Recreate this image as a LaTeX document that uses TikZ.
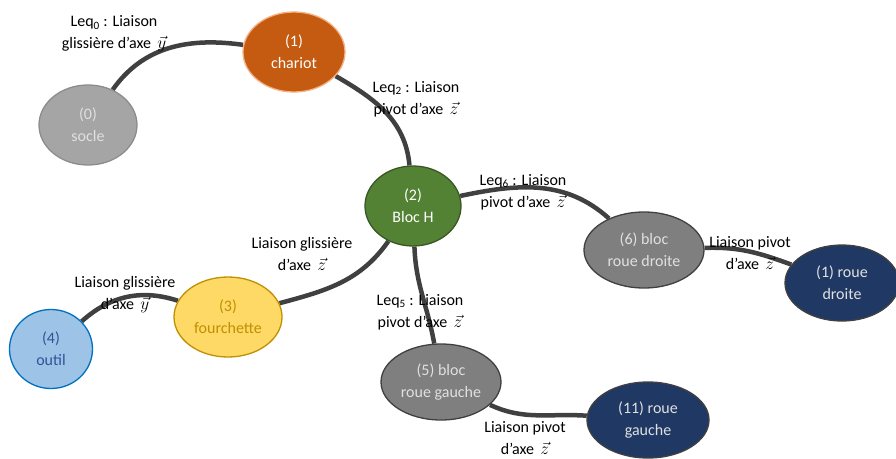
\documentclass[tikz,border=0pt]{standalone}
\usepackage{fontspec}
\setmainfont{Carlito}
\usepackage{amsmath}
\usetikzlibrary{positioning, shapes.geometric, backgrounds}
\definecolor{linkgray}{HTML}{404040}
\definecolor{socleF}{HTML}{A5A5A5}
\definecolor{socleB}{HTML}{8C8C8C}
\definecolor{chariotF}{HTML}{C55A11}
\definecolor{chariotB}{HTML}{F4B183}
\definecolor{blocF}{HTML}{548235}
\definecolor{blocB}{HTML}{385723}
\definecolor{fourchF}{HTML}{FFD966}
\definecolor{fourchB}{HTML}{BF9000}
\definecolor{outilF}{HTML}{9DC3E6}
\definecolor{outilB}{HTML}{0070C0}
\definecolor{outilT}{HTML}{2F5597}
\definecolor{roueF}{HTML}{7F7F7F}
\definecolor{navyF}{HTML}{203864}
\definecolor{paleT}{HTML}{E0E0E0}

\begin{document}
\begin{tikzpicture}
        [x=1pt, y=1pt,
         piece/.style={ellipse, draw, line width=1.3pt, inner sep=0pt, align=center,
                       font=\fontsize{16}{22}\selectfont},
         lab/.style={align=center, inner sep=0pt, font=\fontsize{16}{22}\selectfont},
         link/.style={draw=linkgray, line width=4.5pt}]
        \useasboundingbox (0,0) rectangle (896,-458);

        \node[piece, fill=socleF, draw=socleB, text=paleT, minimum width=98, minimum height=80] (socle) at (88,-125) {(0)\\socle};
        \node[piece, fill=chariotF, draw=chariotB, text=white, minimum width=102, minimum height=80] (chariot) at (294,-52) {(1)\\chariot};
        \node[piece, fill=blocF, draw=blocB, text=white, minimum width=96, minimum height=80] (blocH) at (413,-206) {(2)\\Bloc H};
        \node[piece, fill=fourchF, draw=fourchB, text=fourchB, minimum width=108, minimum height=80] (fourchette) at (228,-317) {(3)\\fourchette};
        \node[piece, fill=outilF, draw=outilB, text=outilT, minimum width=83, minimum height=79] (outil) at (51,-349) {(4)\\outil};
        \node[piece, fill=roueF, draw=linkgray, text=paleT, minimum width=120, minimum height=76] (blocRG) at (441,-382) {(5) bloc\\roue gauche};
        \node[piece, fill=roueF, draw=linkgray, text=paleT, minimum width=120, minimum height=76] (blocRD) at (644,-250) {(6) bloc\\roue droite};
        \node[piece, fill=navyF, draw=linkgray, text=paleT, minimum width=114, minimum height=76] (roueD) at (842,-283) {(1) roue\\droite};
        \node[piece, fill=navyF, draw=linkgray, text=paleT, minimum width=122, minimum height=76] (roueG) at (648,-420) {(11) roue\\gauche};

        \node[lab] (l0) at (114,-34) {Leq\textsubscript{0} : Liaison\\glissière d’axe\ \,$\vec{y}$};
        \node[lab] (l2) at (416,-99) {Leq\textsubscript{2} : Liaison\\pivot d’axe\ \,$\vec{z}$};
        \node[lab] (l6) at (523,-192) {Leq\textsubscript{6} : Liaison\\pivot d’axe\ \,$\vec{z}$};
        \node[lab] (lrd) at (750,-253) {Liaison pivot\\d’axe\ \,$\vec{z}$};
        \node[lab] (l3) at (302,-254) {Liaison glissière\\d’axe\ \,$\vec{z}$};
        \node[lab] (l5) at (420,-312) {Leq\textsubscript{5} : Liaison\\pivot d’axe\ \,$\vec{z}$};
        \node[lab] (l4) at (125,-295) {Liaison glissière\\d’axe\ \,$\vec{y}$};
        \node[lab] (lrg) at (525,-438) {Liaison pivot\\d’axe\ \,$\vec{z}$};

        \begin{scope}[on background layer]
        \path [link] (socle) edge[out=55, in=172] (chariot);
        \path [link] (chariot) edge[out=-30, in=95] (blocH);
        \path [link] (blocH) edge[out=12, in=138] (blocRD);
        \path [link] (blocRD) edge[out=2, in=160] (roueD);
        \path [link] (blocH) edge[out=-88, in=100] (blocRG);
        \path [link] (blocRG) edge[out=-25, in=176] (roueG);
        \path [link] (blocH) edge[out=-125, in=15] (fourchette);
        \path [link] (fourchette) edge[out=162, in=42] (outil);
        \end{scope}
    \end{tikzpicture}
\end{document}
